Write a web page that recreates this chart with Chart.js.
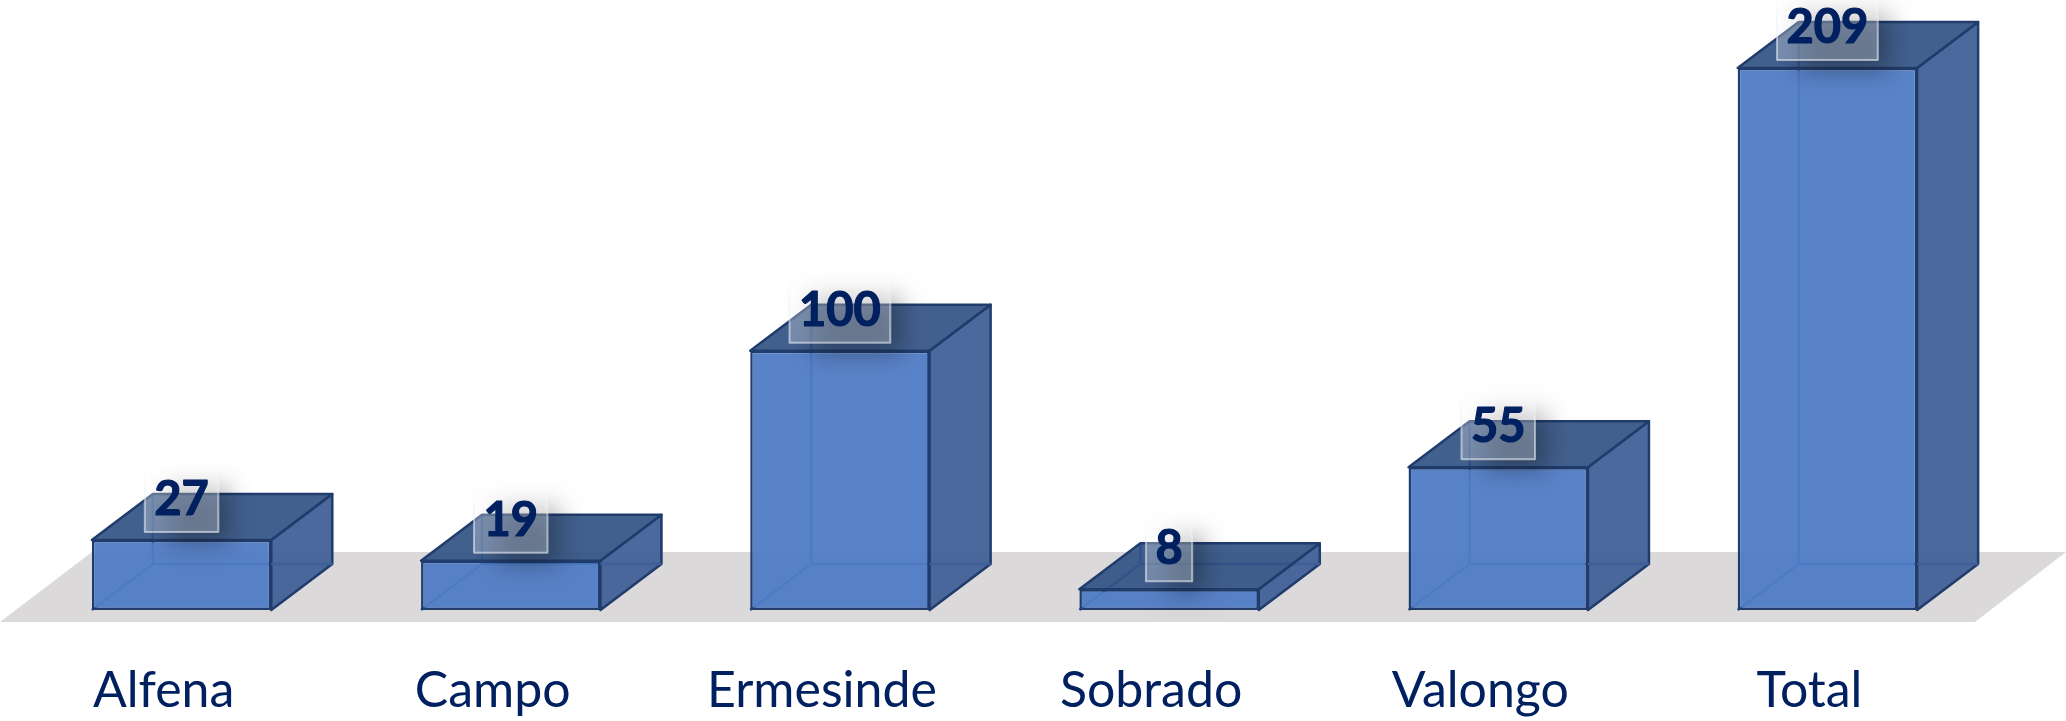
<!DOCTYPE html>
<html>
<head>
<meta charset="utf-8">
<style>html,body{margin:0;padding:0;background:#fff;overflow:hidden}canvas{display:block}</style>
<script src="https://cdn.jsdelivr.net/npm/chart.js@4/dist/chart.umd.js"></script>
</head>
<body>
<canvas id="c" width="2066" height="721"></canvas>
<script>
const categories = ["Alfena", "Campo", "Ermesinde", "Sobrado", "Valongo", "Total"];
const values = [27, 19, 100, 8, 55, 209];

const DX = 61, DY = 46;
const EDGE = "#203c6c";
const INNER = "#2f5aa4";

function poly(ctx, pts) {
  ctx.beginPath();
  pts.forEach((p, i) => i ? ctx.lineTo(p[0], p[1]) : ctx.moveTo(p[0], p[1]));
  ctx.closePath();
}

const box3d = {
  id: "box3d",
  beforeDatasetsDraw(chart) {
    const ctx = chart.ctx, base = chart.scales.y.getPixelForValue(0);
    ctx.save();
    const top = base - 58, bot = base + 12;
    ctx.fillStyle = "#dbd9da";
    poly(ctx, [[0, bot], [1975, bot], [2066, top], [92, top]]);
    ctx.fill();
    ctx.strokeStyle = INNER; ctx.lineWidth = 2.5;
    chart.getDatasetMeta(0).data.forEach(b => {
      const l = b.x - b.width / 2, r = b.x + b.width / 2;
      ctx.beginPath();
      ctx.moveTo(l, base); ctx.lineTo(l + DX, base - DY);
      ctx.lineTo(r + DX, base - DY);
      ctx.moveTo(l + DX, base - DY); ctx.lineTo(l + DX, b.y - DY);
      ctx.stroke();
    });
    ctx.restore();
  },
  afterDatasetsDraw(chart) {
    const ctx = chart.ctx, meta = chart.getDatasetMeta(0);
    ctx.save();
    meta.data.forEach(b => {
      const l = b.x - b.width / 2, r = b.x + b.width / 2, t = b.y, bt = b.base;
      ctx.lineJoin = "round"; ctx.lineWidth = 2.5; ctx.strokeStyle = EDGE;
      ctx.fillStyle = "rgba(62,94,150,0.93)";
      poly(ctx, [[r, t], [r + DX, t - DY], [r + DX, bt - DY], [r, bt]]);
      ctx.fill(); ctx.stroke();
      ctx.strokeStyle = "#3f5f96";
      ctx.beginPath(); ctx.moveTo(r, bt - DY); ctx.lineTo(r + DX, bt - DY); ctx.stroke();
      ctx.strokeStyle = EDGE;
      ctx.fillStyle = "rgba(50,82,132,0.92)";
      poly(ctx, [[l, t], [l + DX, t - DY], [r + DX, t - DY], [r, t]]);
      ctx.fill(); ctx.stroke();
    });
    ctx.font = "bold 47px Lato";
    ctx.textAlign = "center"; ctx.textBaseline = "alphabetic";
    meta.data.forEach((b, i) => {
      const txt = String(values[i]);
      const w = ctx.measureText(txt).width + 19, h = 74;
      const x = b.x - w / 2, y = b.y - 8 - h;
      ctx.save();
      ctx.shadowColor = "rgba(0,0,0,0.3)";
      ctx.shadowBlur = 24;
      ctx.shadowOffsetX = 5000 + 14;
      ctx.shadowOffsetY = 14;
      ctx.fillStyle = "#000";
      ctx.fillRect(x - 5000 + 8, y + 14, w - 10, h - 16);
      ctx.restore();
      const g = ctx.createLinearGradient(0, y, 0, y + h);
      g.addColorStop(0, "rgba(255,255,255,0.14)");
      g.addColorStop(0.45, "rgba(255,255,255,0.3)");
      g.addColorStop(1, "rgba(255,255,255,0.27)");
      ctx.fillStyle = g;
      ctx.fillRect(x, y, w, h);
      const s = ctx.createLinearGradient(0, y, 0, y + h);
      s.addColorStop(0, "rgba(255,255,255,0)");
      s.addColorStop(0.5, "rgba(235,238,243,0.55)");
      s.addColorStop(1, "rgba(235,238,243,0.6)");
      ctx.strokeStyle = s; ctx.lineWidth = 2;
      ctx.strokeRect(x, y, w, h);
      ctx.fillStyle = "#002060";
      ctx.strokeStyle = "#002060"; ctx.lineWidth = 1.2; ctx.lineJoin = "round";
      ctx.strokeText(txt, b.x, b.y - 25);
      ctx.fillText(txt, b.x, b.y - 25);
    });
    ctx.restore();
  }
};

new Chart(document.getElementById("c"), {
  type: "bar",
  data: {
    labels: categories,
    datasets: [{
      data: values,
      backgroundColor: "rgba(80,124,198,0.95)",
      borderColor: EDGE,
      borderWidth: 2.5,
      borderSkipped: false,
      barPercentage: 0.545,
      categoryPercentage: 1,
      clip: false
    }]
  },
  options: {
    responsive: false,
    animation: false,
    layout: { padding: { left: 17, right: 74, top: 68, bottom: 0 } },
    plugins: { legend: { display: false }, tooltip: { enabled: false } },
    scales: {
      y: { display: false, min: 0, max: 209 },
      x: {
        afterFit(s) { s.height = 111; },
        grid: { display: false, drawTicks: false },
        border: { display: false },
        ticks: {
          color: "#002060",
          font: { family: "Lato", size: 50 },
          padding: 51,
          labelOffset: -18,
          maxRotation: 0,
          autoSkip: false
        }
      }
    }
  },
  plugins: [box3d]
});
</script>
</body>
</html>
